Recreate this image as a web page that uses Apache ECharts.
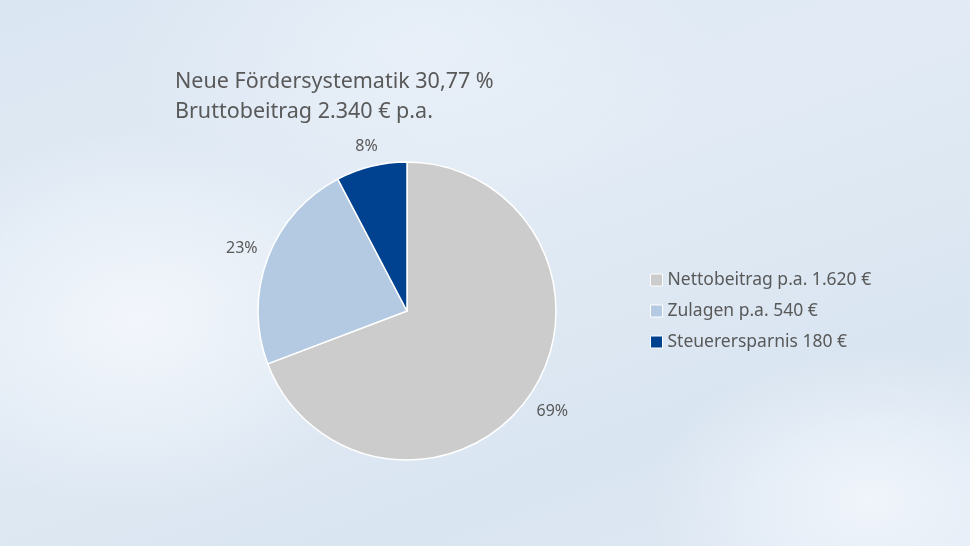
<!DOCTYPE html>
<html lang="de">
<head>
    <meta charset="UTF-8">
    <title>Fördersystematik</title>
    <script src="https://cdn.jsdelivr.net/npm/echarts@6/dist/echarts.min.js"></script>
    <style>
        html, body { margin: 0; padding: 0; }
        body {
            width: 970px; height: 546px; overflow: hidden;
            background:
                radial-gradient(ellipse 240px 190px at 140px 320px, rgba(244,247,252,0.9), rgba(244,247,252,0) 100%),
                radial-gradient(ellipse 220px 150px at 870px 500px, rgba(242,246,252,0.9), rgba(242,246,252,0) 100%),
                radial-gradient(ellipse 300px 170px at 420px 50px, rgba(235,241,249,0.8), rgba(235,241,249,0) 100%),
                linear-gradient(160deg, #dae6f2 0%, #e2ebf5 40%, #d9e5f1 75%, #e0e9f4 100%);
        }
        #chart { width: 970px; height: 546px; }
    </style>
</head>
<body>
<div id="chart"></div>
<script>
    // Daten
    var names = ['Nettobeitrag p.a. 1.620 €', 'Zulagen p.a. 540 €', 'Steuerersparnis 180 €'];
    var values = [1620, 540, 180];
    var colors = ['#cccccc', '#b3cae2', '#00428f'];
    var titleLines = ['Neue Fördersystematik 30,77 %', 'Bruttobeitrag 2.340 € p.a.'];

    var textColor = '#595959';
    var font = '"Noto Sans", sans-serif';
    var cx = 407, cy = 311, r = 149;

    var total = values.reduce(function (a, b) { return a + b; }, 0);

    var myChart = echarts.init(document.getElementById('chart'));
    myChart.setOption({
        backgroundColor: 'transparent',
        animation: false,
        title: {
            text: titleLines.join('\n'),
            left: 170,
            top: 62,
            textStyle: { color: textColor, fontSize: 21.5, fontWeight: 'normal', fontFamily: font, lineHeight: 30 }
        },
        legend: {
            orient: 'vertical',
            left: 650,
            top: 270,
            padding: 0,
            itemWidth: 12,
            itemHeight: 12,
            itemGap: 11,
            icon: 'rect',
            data: names,
            itemStyle: { borderColor: '#ffffff', borderWidth: 1 },
            textStyle: { color: textColor, fontSize: 17.5, fontFamily: font, lineHeight: 20 }
        },
        series: [{
            type: 'pie',
            center: [cx, cy],
            radius: [0, r],
            startAngle: 90,
            clockwise: true,
            data: names.map(function (n, i) {
                return { name: n, value: values[i], itemStyle: { color: colors[i] } };
            }),
            itemStyle: { borderColor: '#ffffff', borderWidth: 1.5 },
            label: {
                show: true,
                position: 'outside',
                formatter: function (p) { return Math.round(p.percent) + '%'; },
                color: textColor,
                fontSize: 16,
                fontFamily: font
            },
            labelLine: { show: false },
            // Beschriftung mit festem Abstand der Textbox zum Kreisrand
            labelLayout: function (p) {
                var before = 0;
                for (var k = 0; k < p.dataIndex; k++) before += values[k];
                var a = (before + values[p.dataIndex] / 2) / total * Math.PI * 2;
                var dx = Math.sin(a), dy = -Math.cos(a);
                var w = p.labelRect.width, h = p.labelRect.height;
                var R = r + 10 + Math.abs(dx) * w / 2 + Math.abs(dy) * h / 2;
                return { x: cx + dx * R, y: cy + dy * R, align: 'center', verticalAlign: 'middle' };
            },
            emphasis: { disabled: true }
        }]
    });
</script>
</body>
</html>
